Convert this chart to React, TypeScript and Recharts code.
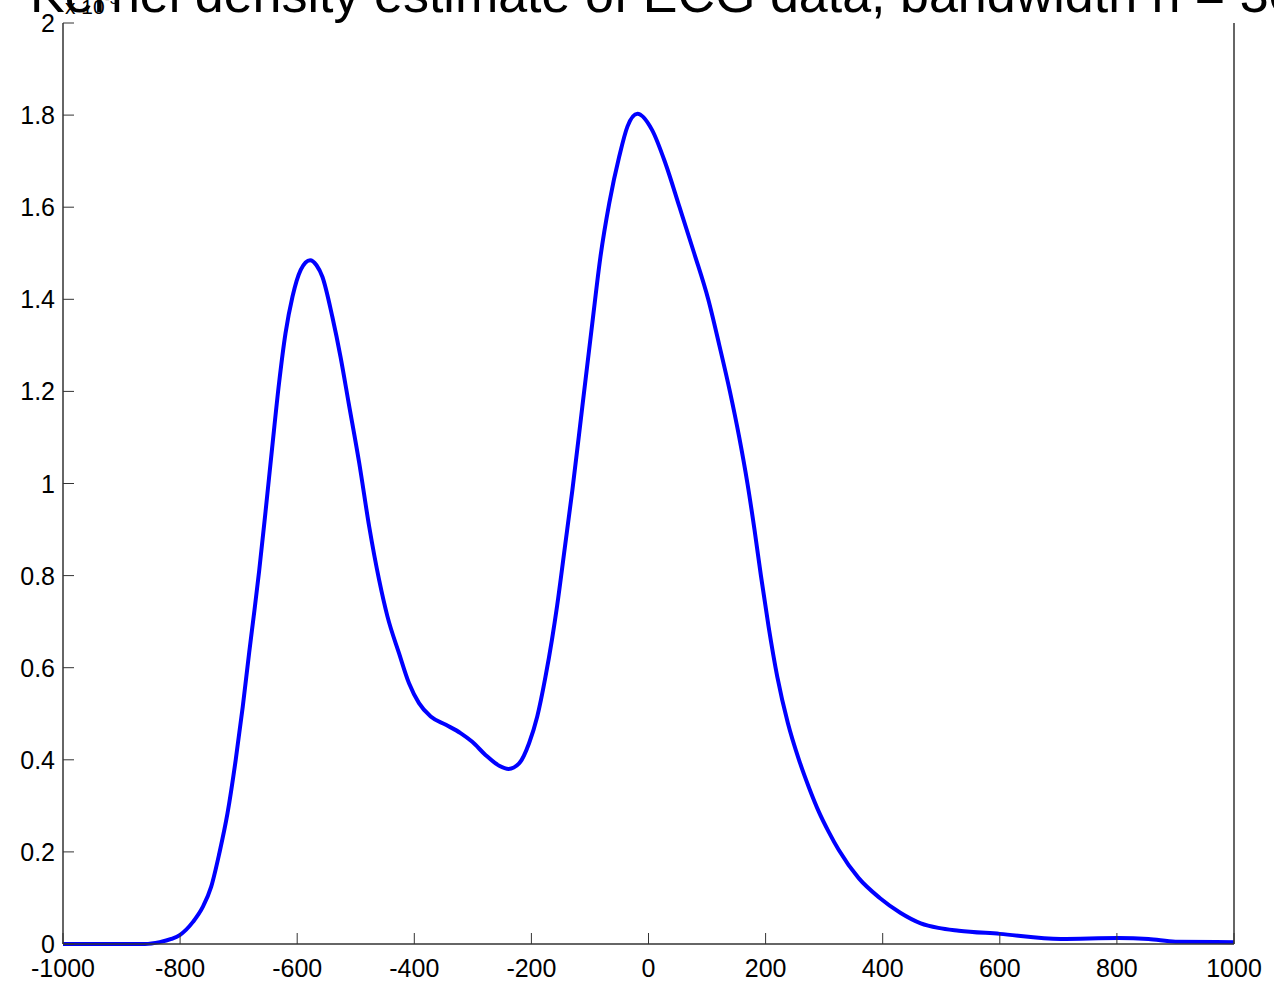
import { LineChart, Line, XAxis, YAxis } from "recharts";

const FONT = "'Liberation Sans', Arial, Helvetica, sans-serif";
const AXIS = "#333";

// sample positions (x) and density values (x 10^-3)
const xs = [
  -1000, -900, -860, -835, -815, -800, -778, -761, -747, -733, -719, -705, -693, -682,
  -673, -665, -654, -643, -631, -620, -608, -594, -578, -567, -557, -540, -526, -512,
  -494, -477, -460, -446, -426, -409, -392, -372, -346, -321, -301, -278, -255, -239,
  -221, -204, -190, -176, -165, -156, -143, -130, -113, -96, -82, -67, -50, -36, -19, 6, 29,
  53, 78, 102, 121, 139, 155, 169, 181, 192, 205, 220, 238, 257, 274, 291, 308, 325,
  359, 395, 430, 465, 495, 530, 600, 704, 802, 854, 900, 1000,
];
const density = [
  0, 0, 0, 0.004, 0.011, 0.02, 0.048, 0.081, 0.124, 0.197, 0.284, 0.4, 0.515, 0.633,
  0.725, 0.81, 0.94, 1.075, 1.218, 1.326, 1.406, 1.464, 1.485, 1.474, 1.449, 1.362, 1.275, 1.174,
  1.044, 0.906, 0.79, 0.712, 0.631, 0.566, 0.523, 0.494, 0.476, 0.458, 0.439, 0.41, 0.387, 0.38,
  0.392, 0.436, 0.494, 0.58, 0.66, 0.735, 0.86, 0.986, 1.167, 1.348, 1.493, 1.609, 1.71, 1.775, 1.803, 1.768, 1.695,
  1.6, 1.5, 1.4, 1.3, 1.2, 1.1, 1.0, 0.9, 0.8, 0.69, 0.58, 0.48, 0.4, 0.34, 0.287, 0.243, 0.204,
  0.143, 0.1, 0.068, 0.045, 0.035, 0.029, 0.022, 0.011, 0.013, 0.011, 0.005, 0.004,
];

const xTicks = [-1000, -800, -600, -400, -200, 0, 200, 400, 600, 800, 1000];
const yTicks = [0, 0.2, 0.4, 0.6, 0.8, 1, 1.2, 1.4, 1.6, 1.8, 2];

const title = "Kernel density estimate of ECG data, bandwidth h = 30";

const data = xs.map((x, i) => ({ x, y: density[i] }));

const TICK = 11;

const BottomTick = ({ x, y, payload }: any) => (
  <g>
    <line x1={x} x2={x} y1={y} y2={y - TICK} stroke={AXIS} strokeWidth={1} />
    <text x={x} y={y + 33} textAnchor="middle" fontSize={25} fontFamily={FONT} fill="#000">
      {payload.value}
    </text>
  </g>
);

const TopTick = ({ x, y }: any) => (
  <line x1={x} x2={x} y1={y} y2={y + TICK} stroke={AXIS} strokeWidth={1} />
);

const LeftTick = ({ x, y, payload }: any) => (
  <g>
    <line x1={x} x2={x + TICK} y1={y} y2={y} stroke={AXIS} strokeWidth={1} />
    <text x={x - 8} y={y} dy="0.36em" textAnchor="end" fontSize={25} fontFamily={FONT} fill="#000">
      {payload.value}
    </text>
  </g>
);

const RightTick = ({ x, y }: any) => (
  <line x1={x} x2={x - TICK} y1={y} y2={y} stroke={AXIS} strokeWidth={1} />
);

export default function App() {
  return (
    <div style={{ position: "absolute", left: 0, top: 0, width: 1274, height: 985, background: "#fff" }}>
      <LineChart width={1274} height={985} data={data} margin={{ top: 23, right: 0, bottom: 0, left: 0 }}>
        <XAxis
          dataKey="x" type="number" domain={[-1000, 1000]} ticks={xTicks} height={41}
          tickSize={0} tickMargin={0} tickLine={false} interval={0}
          axisLine={{ stroke: AXIS, strokeWidth: 1.5 }} tick={<BottomTick />}
        />
        <XAxis
          xAxisId="top" orientation="top" dataKey="x" type="number" domain={[-1000, 1000]}
          ticks={xTicks} height={0} tickSize={0} tickMargin={0} tickLine={false} interval={0}
          axisLine={{ stroke: AXIS, strokeWidth: 1.5 }} tick={<TopTick />}
        />
        <YAxis
          type="number" domain={[0, 2]} ticks={yTicks} width={63} interval={0}
          tickSize={0} tickMargin={0} tickLine={false}
          axisLine={{ stroke: AXIS, strokeWidth: 1.5 }} tick={<LeftTick />}
        />
        <YAxis
          yAxisId="right" orientation="right" type="number" domain={[0, 2]} ticks={yTicks}
          width={40} interval={0} tickSize={0} tickMargin={0} tickLine={false}
          axisLine={{ stroke: AXIS, strokeWidth: 1.5 }} tick={<RightTick />}
        />
        <Line
          type="monotone" dataKey="y" stroke="#0000ff" strokeWidth={4}
          dot={false} isAnimationActive={false}
        />
      </LineChart>
      <svg width={1274} height={985} style={{ position: "absolute", left: 0, top: 0, pointerEvents: "none" }}>
        <text x={30} y={12} fontSize={52} fontFamily={FONT} fill="#000">{title}</text>
        <text x={65} y={14} fontSize={21} fontFamily={FONT} fill="#000">
          x 10<tspan dy={-10} fontSize={15}>-3</tspan>
        </text>
      </svg>
    </div>
  );
}
